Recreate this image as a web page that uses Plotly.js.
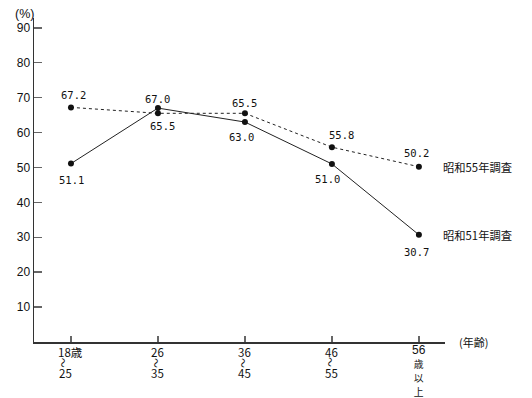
<!DOCTYPE html>
<html><head><meta charset="utf-8">
<script src="https://cdn.plot.ly/plotly-3.0.1.min.js"></script>
<style>html,body{margin:0;padding:0;background:#fff}#chart{width:532px;height:398px}</style>
</head><body><div id="chart"></div>
<script>
// Data
const categories = [["18歳", "〜", "25"], ["26", "〜", "35"], ["36", "〜", "45"], ["46", "〜", "55"], ["56", "歳", "以", "上"]];
const seriesS55 = [67.2, 65.5, 65.5, 55.8, 50.2];
const seriesS51 = [51.1, 67.0, 63.0, 51.0, 30.7];
const nameS55 = "昭和55年調査";
const nameS51 = "昭和51年調査";
const yTicks = [10, 20, 30, 40, 50, 60, 70, 80, 90];
const yUnit = "(%)";
const xUnit = "(年齢)";

// Label placement (pixels: [dx, dy], dy positive = up)
const offS55 = [[3, 12], [5, -13], [0, 10], [10, 12], [-2, 14]];
const offS51 = [[1, -16], [0, 9], [-3, -15], [-4, -15], [-2, -17]];

const idx = categories.map((_, i) => i);
const numFont = {family: "DejaVu Sans Mono, monospace", size: 10.5, color: "#111"};
const jpFont = "Noto Sans CJK JP, DejaVu Sans, sans-serif";
const tickFontSize = 11.5;

const traces = [
  {x: idx, y: seriesS55, mode: "lines+markers", name: nameS55,
   line: {color: "#222", width: 1, dash: "3px,3px"}, marker: {color: "#111", size: 6}},
  {x: idx, y: seriesS51, mode: "lines+markers", name: nameS51,
   line: {color: "#222", width: 1}, marker: {color: "#111", size: 6}}
];

const annotations = [];
function addLabels(vals, offs) {
  vals.forEach((v, i) => annotations.push({
    x: idx[i], y: v, xref: "x", yref: "y", text: v.toFixed(1), showarrow: false,
    xanchor: "center", yanchor: "middle", xshift: offs[i][0], yshift: offs[i][1], font: numFont
  }));
}
addLabels(seriesS55, offS55);
addLabels(seriesS51, offS51);

// Category tick labels (stacked vertical lines)
function estWidth(s) {
  let w = 0;
  for (const ch of s) w += /[0-9]/.test(ch) ? tickFontSize * 0.56 : tickFontSize;
  return w;
}
categories.forEach((lines, i) => {
  if (!lines.includes("〜")) {
    // single stacked text block, tight line spacing
    const lh = 14;
    const styled = lines.map(l => /^[0-9]+$/.test(l)
      ? '<span style="font-family:Liberation Sans, sans-serif;font-size:12px">' + l + '</span>'
      : '<span style="font-size:9.8px">' + l + '</span>');
    annotations.push({
      x: idx[i], y: 0, xref: "x", yref: "y", showarrow: false, align: "center",
      text: styled.join("<br>"),
      xanchor: "center", yanchor: "middle", yshift: -(7.5 + lh * (lines.length - 1) / 2), borderpad: 0,
      font: {family: jpFont, size: lh / 1.3, color: "#111"}
    });
    return;
  }
  const w0 = estWidth(lines[0]);
  let dy = 10;
  lines.forEach((ln, k) => {
    const wavy = ln === "〜";
    if (k > 0) dy += (wavy || lines[k - 1] === "〜") ? 10.5 : 13;
    const w = wavy ? 10 : estWidth(ln);
    annotations.push({
      x: idx[i], y: 0, xref: "x", yref: "y", text: ln, showarrow: false,
      xanchor: "center", yanchor: "middle", xshift: -w0 / 2 + w / 2, yshift: -dy,
      textangle: wavy ? 90 : 0, borderpad: 0,
      font: {family: jpFont, size: wavy ? 10 : tickFontSize, color: "#111"}
    });
  });
});

annotations.push(
  {xref: "paper", yref: "paper", x: -0.022, y: 1.0, yshift: 4.5, xanchor: "center", yanchor: "middle",
   text: yUnit, showarrow: false, font: {family: "Liberation Sans, sans-serif", size: 12.5, color: "#111"}},
  {xref: "paper", yref: "y", x: 1.029, y: 0, xanchor: "left", yanchor: "middle",
   text: xUnit, showarrow: false, font: {family: jpFont, size: 11, color: "#111"}},
  {xref: "paper", yref: "y", x: 0.99, y: seriesS55[4], xanchor: "left", yanchor: "middle",
   text: nameS55, showarrow: false, font: {family: jpFont, size: 11.3, color: "#111"}},
  {xref: "paper", yref: "y", x: 0.99, y: seriesS51[4], xanchor: "left", yanchor: "middle",
   text: nameS51, showarrow: false, font: {family: jpFont, size: 11.3, color: "#111"}}
);

const layout = {
  width: 532, height: 398,
  margin: {l: 34, r: 87, t: 18, b: 56},
  paper_bgcolor: "#fff", plot_bgcolor: "#fff",
  showlegend: false,
  font: {family: jpFont, color: "#111", size: 12},
  xaxis: {
    range: [-0.425, 4.3], tickvals: idx, ticktext: idx.map(() => ""),
    showline: true, linecolor: "#333", linewidth: 1.5, showgrid: false, zeroline: false,
    ticks: "inside", ticklen: 6, tickcolor: "#666", tickwidth: 1.5
  },
  yaxis: {
    range: [0, 92.8], tickvals: yTicks, ticktext: yTicks.map(String),
    showline: true, linecolor: "#333", linewidth: 1.5, showgrid: false, zeroline: false,
    ticks: "inside", ticklen: 8, tickcolor: "#666", tickwidth: 1.5,
    tickfont: {family: "Liberation Sans, sans-serif", size: 12, color: "#111"}
  },
  annotations: annotations
};
Plotly.newPlot("chart", traces, layout, {staticPlot: true, displayModeBar: false});
</script></body></html>
